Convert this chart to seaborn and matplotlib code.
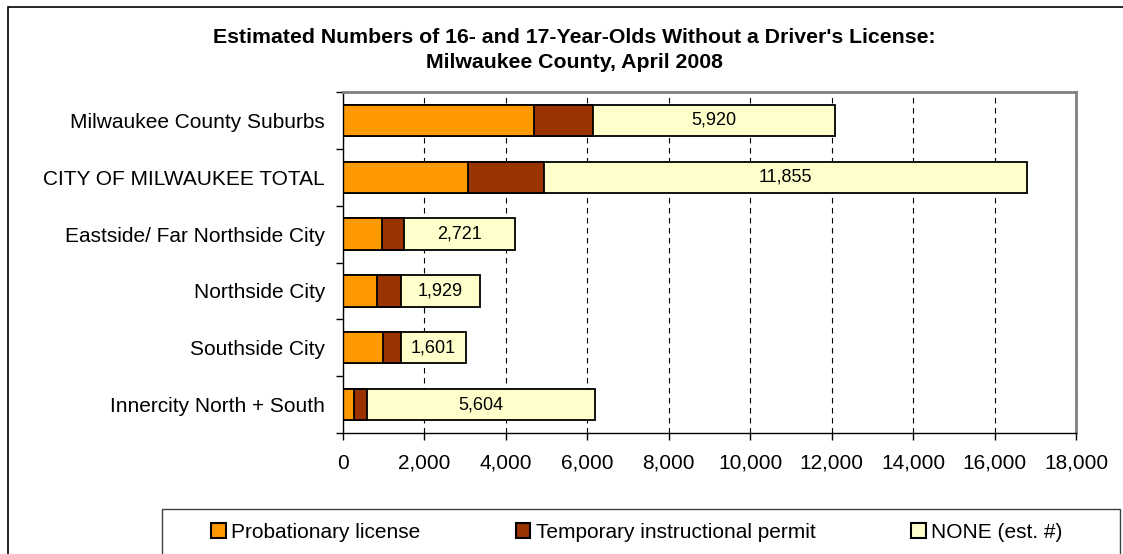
import numpy as np
import pandas as pd
import matplotlib
matplotlib.use("Agg")
import matplotlib.pyplot as plt
import seaborn as sns
from matplotlib.patches import Patch, Rectangle
from matplotlib.ticker import FuncFormatter, MultipleLocator, FixedLocator

# Chart data
areas = ["Milwaukee County Suburbs", "CITY OF MILWAUKEE TOTAL",
         "Eastside/ Far Northside City", "Northside City",
         "Southside City", "Innercity North + South"]
probationary = [4700, 3075, 950, 840, 975, 270]
temporary = [1450, 1870, 550, 590, 445, 320]
none_est = [5920, 11855, 2721, 1929, 1601, 5604]
series_names = ["Probationary license", "Temporary instructional permit", "NONE (est. #)"]
colors = ["#FF9900", "#993300", "#FFFFCC"]

df = pd.DataFrame({"area": areas, "prob": probationary,
                   "temp": temporary, "none": none_est})
df["prob_temp"] = df["prob"] + df["temp"]
df["total"] = df["prob_temp"] + df["none"]

sns.set_style("white")
plt.rcParams["font.family"] = ["Liberation Sans", "DejaVu Sans"]
plt.rcParams["text.color"] = "black"
plt.rcParams["xtick.color"] = "black"
plt.rcParams["ytick.color"] = "black"
plt.rcParams["axes.labelcolor"] = "black"

W, H = 1123, 554
fig = plt.figure(figsize=(W / 100, H / 100), dpi=100)
ax = fig.add_axes([343 / W, 1 - 433 / H, (1076 - 343) / W, (433 - 92) / H])

# stacked bars: draw cumulative totals from the longest to the shortest
for col, c in zip(["total", "prob_temp", "prob"], colors[::-1]):
    sns.barplot(data=df, x=col, y="area", color=c, saturation=1, width=0.55,
                edgecolor="black", linewidth=1.3, errorbar=None, orient="h", ax=ax)

# value labels in the middle of the NONE segment
for i, row in df.iterrows():
    ax.text(row["prob_temp"] + row["none"] / 2, i, f"{row['none']:,}",
            ha="center", va="center", fontsize=13, color="black")

ax.set_xlim(0, 18000)
ax.set_ylim(5.5, -0.5)
ax.xaxis.set_major_locator(MultipleLocator(2000))
ax.xaxis.set_major_formatter(FuncFormatter(lambda v, p: f"{int(v):,}"))
ax.yaxis.set_minor_locator(FixedLocator(np.arange(-0.5, 6, 1)))
ax.tick_params(axis="x", which="major", direction="out", length=5, width=1,
               color="black", labelcolor="black", labelsize=15, pad=10, bottom=True)
ax.tick_params(axis="y", which="major", length=0, labelsize=15, pad=13,
               labelcolor="black")
ax.tick_params(axis="y", which="minor", direction="out", length=5, width=1,
               color="black", left=True)
ax.set_xlabel("")
ax.set_ylabel("")

# dashed vertical gridlines
ax.set_axisbelow(True)
ax.grid(axis="x", color="black", linestyle=(0, (5, 4)), linewidth=0.8)
ax.grid(axis="y", visible=False)

for s in ["left", "bottom"]:
    ax.spines[s].set_color("black")
    ax.spines[s].set_linewidth(1)
for s in ["top", "right"]:
    ax.spines[s].set_color("#808080")
    ax.spines[s].set_linewidth(2)
    ax.spines[s].set_visible(True)

# title
fig.text(574 / W, 1 - 50 / H,
         "Estimated Numbers of 16- and 17-Year-Olds Without a Driver's License:\n"
         "Milwaukee County, April 2008",
         ha="center", va="center", fontsize=15.3, fontweight="bold",
         color="black", linespacing=1.45)

# outer chart border (clipped at right/bottom like the reference)
fig.add_artist(Rectangle((8 / W, -0.2), 1.5, 1.2 - 7 / H, transform=fig.transFigure,
                         fill=False, edgecolor="black", linewidth=1.2))

# legend box and entries
fig.add_artist(Rectangle((162 / W, -0.2), (1120 - 162) / W, 0.2 + 1 - 509 / H,
                         transform=fig.transFigure, fill=False,
                         edgecolor="#404040", linewidth=1))
handles = [Patch(facecolor=c, edgecolor="black", linewidth=1.5) for c in colors]
fig.legend(handles, series_names, ncol=3, loc="center left",
           bbox_to_anchor=(211 / W, 1 - 532 / H), frameon=False, fontsize=15,
           handlelength=0.7, handleheight=0.7, handletextpad=0.25,
           columnspacing=4.6, borderpad=0, borderaxespad=0)

fig.savefig("out.png", dpi=100)
